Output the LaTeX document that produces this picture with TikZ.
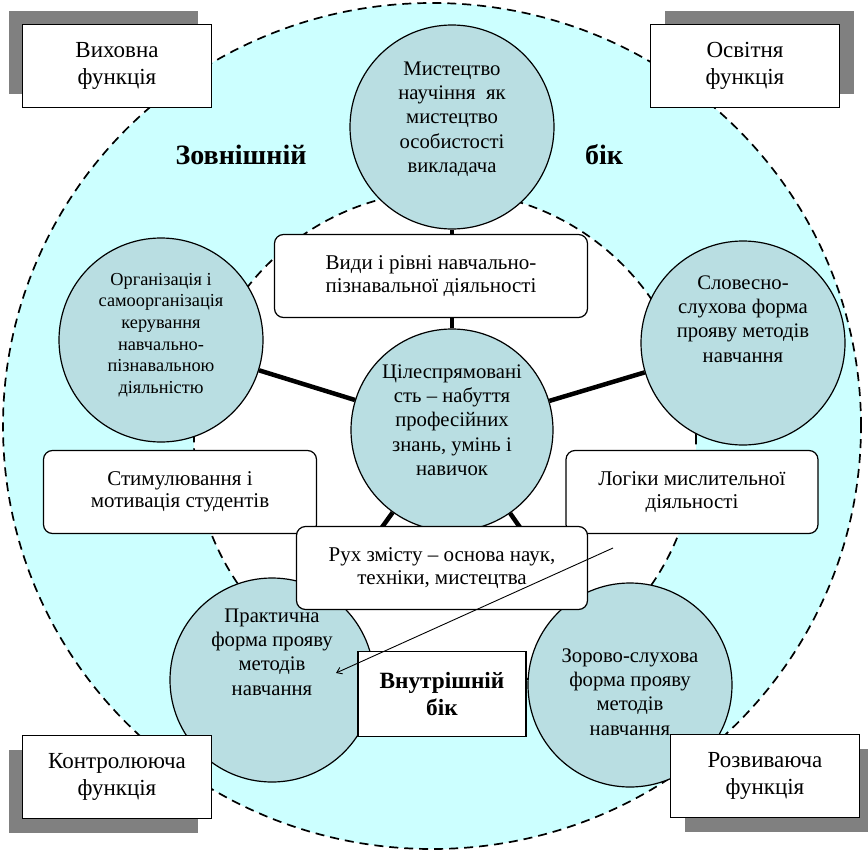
\documentclass[tikz,border=0pt]{standalone}
\usepackage{fontspec}
\setmainfont{Liberation Serif}
\usetikzlibrary{arrows.meta,shadows}
\definecolor{outercyan}{RGB}{204,255,255}
\definecolor{disccol}{RGB}{185,222,226}
\definecolor{shadowgray}{RGB}{128,128,128}

\begin{document}
\begin{tikzpicture}[x=1pt,y=-1pt,
 disc/.style={circle,draw,line width=1.2pt,fill=disccol,minimum size=204pt,inner sep=0pt},
 ctext/.style={align=center,font=\fontsize{20.7}{24.3}\selectfont},
 rbox/.style={draw,line width=1.2pt,fill=white,rounded corners=9pt,align=center,minimum height=83pt,font=\fontsize{21}{22.5}\selectfont},
 fnbox/.style={draw,line width=1.2pt,fill=white,minimum width=189pt,minimum height=83pt,align=center,font=\fontsize{23}{27}\selectfont},
 casts/.style 2 args={general shadow={fill=shadowgray,shadow xshift=#1,shadow yshift=#2}},
 spoke/.style={line width=4.5pt},
 bdash/.style={line width=1.7pt,dash pattern=on 9pt off 6pt},
 side/.style={font=\fontsize{28}{32}\selectfont\bfseries,align=center}]
\useasboundingbox (0,0) rectangle (868,854);
% two zones
\draw[bdash,fill=outercyan] (432,426) ellipse [x radius=429pt,y radius=423pt];
\draw[bdash,fill=white] (445,442) circle [radius=251pt];
% circles round the centre
\node[disc] (mist) at (452,127) {};
\node[disc] (org) at (161,340) {};
\node[disc] (slov) at (743,343) {};
\node[disc] (prak) at (272,680) {};
\node[disc] (zor) at (630,685) {};
\node[disc,minimum size=202pt] (cil) at (452,430) {};
\foreach \n in {mist,org,slov,prak,zor} \draw[spoke] (cil) -- (\n);
\node[ctext] (mist-t) at ([yshift=8pt]mist) {Мистецтво\\научіння~ як\\мистецтво\\особистості\\викладача};
\node[ctext,font=\fontsize{18.3}{21.7}\selectfont] (org-t) at ([yshift=5pt]org) {Організація і\\самоорганізація\\керування\\навчально-\\пізнавальною\\діяльністю};
\node[ctext] (slov-t) at ([yshift=24pt]slov) {Словесно-\\слухова форма\\прояву методів\\навчання};
\node[ctext] (prak-t) at ([yshift=28pt]prak) {Практична\\форма прояву\\методів\\навчання};
\node[ctext] (zor-t) at ([yshift=-7pt]zor) {Зорово-слухова\\форма прояву\\методів\\навчання};
\node[ctext] (cil-t) at ([yshift=10pt]cil) {Цілеспрямовані\\сть -- набуття\\професійних\\знань, умінь і\\навичок};
% rounded boxes
\node[rbox,minimum width=313pt] (vydy) at (431,276) {Види і рівні навчально-\\пізнавальної діяльності};
\node[rbox,minimum width=273pt] (stym) at (180,492) {Стимулювання і\\мотивація студентів};
\node[rbox,minimum width=252pt] (log) at (692,492) {Логіки мислительної\\діяльності};
\node[rbox,minimum width=291pt] (rukh) at (442,568) {Рух змісту -- основа наук,\\техніки, мистецтва};
\node[draw,line width=1.4pt,fill=white,minimum width=168pt,minimum height=85pt,side,font=\fontsize{23.3}{27}\selectfont\bfseries] (vnutr) at (442,694) {Внутрішній\\бік};
% functions
\node[fnbox,casts={-14pt}{14pt}] (vykh) at (117,66) {Виховна\\функція};
\node[fnbox,casts={14pt}{14pt}] (osv) at (745,66) {Освітня\\функція};
\node[fnbox,casts={-14pt}{-14pt}] (kontr) at (117,777) {Контролююча\\функція};
\node[fnbox,casts={14pt}{-14pt}] (rozv) at (765,776) {Розвиваюча\\функція};
\node[side] (zovn) at (241,155) {Зовнішній};
\node[side] (bik) at (604,155) {бік};
\coordinate (ptr-a) at (613,548);
\coordinate (ptr-b) at (336,673);
\draw[line width=0.9pt,-{Straight Barb[length=5pt,width=7pt]}] (ptr-a) -- (ptr-b);
\end{tikzpicture}
\end{document}
